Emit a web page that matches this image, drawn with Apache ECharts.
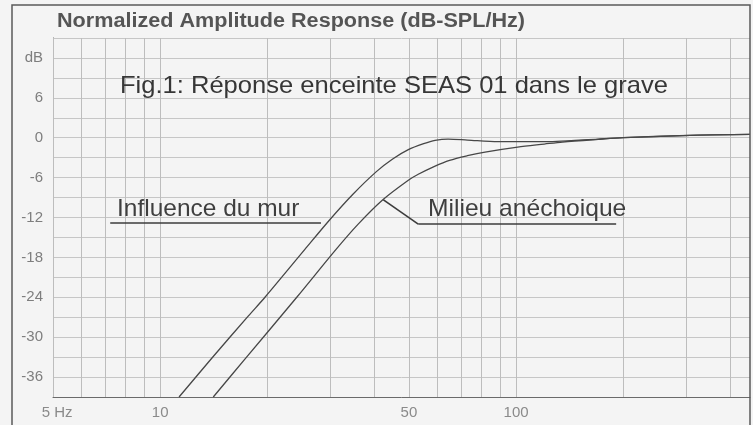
<!DOCTYPE html>
<html>
<head>
<meta charset="utf-8">
<script src="https://cdn.jsdelivr.net/npm/echarts@6/dist/echarts.min.js"></script>
<style>
  html, body { margin: 0; padding: 0; background: #f4f4f4; }
  #chart { width: 753px; height: 425px; }
</style>
</head>
<body>
<div id="chart"></div>
<script>
// Response with the wall close behind the cabinet (Hz, dB)
const wallFreq = [11.3, 14.0, 17.7, 19.7, 25.5, 30.0, 34.8, 40.5, 45, 49.8, 55, 59.2, 64.4, 73, 89, 115, 130, 170, 200, 324, 454];
const wallDb   = [-39, -33.1, -26.8, -24.0, -16.8, -12.3, -8.5, -5.1, -3.2, -1.8, -0.9, -0.4, -0.2, -0.35, -0.6, -0.6, -0.55, -0.2, 0, 0.4, 0.5];

// Anechoic response (Hz, dB)
const anechFreq = [14.1, 17.3, 24.2, 31.2, 36, 42.3, 49.8, 53.1, 59, 65, 73, 81.8, 101, 120, 135, 170, 200, 324, 454];
const anechDb   = [-39, -33.3, -24.0, -16.8, -13.0, -9.3, -6.4, -5.5, -4.3, -3.4, -2.7, -2.15, -1.4, -0.95, -0.65, -0.25, 0, 0.4, 0.5];

// Frequency grid and labelled frequencies
const gridFreqs = [5, 6, 7, 8, 9, 10, 20, 30, 40, 50, 60, 70, 80, 90, 100, 200, 300, 400];
const freqLabels = [5, 10, 50, 100];

// Annotation pointers, in data units (Hz, dB)
const wallUnderline = [[7.24, -12.75], [28.3, -12.75]];
const anechLeader = [[42.3, -9.3], [53.1, -13.0], [191, -13.0]];

const curveColor = '#474747';
const gridColor = '#c6c6c6';
const font = '"Liberation Sans", Arial, sans-serif';

function toSeries(fs, ds) { return fs.map((f, i) => [f, ds[i]]); }

const chart = echarts.init(document.getElementById('chart'), null, { renderer: 'canvas' });

chart.setOption({
  animation: false,
  backgroundColor: '#f4f4f4',
  grid: { left: 53, right: 3, top: 38, bottom: 28 },
  xAxis: {
    type: 'log',
    logBase: 10,
    min: 5,
    max: 454,
    axisLine: { show: true, onZero: false, lineStyle: { color: '#6a6a6a', width: 1 } },
    axisTick: { show: false },
    splitLine: { show: false },
    axisLabel: {
      customValues: freqLabels,
      formatter: v => (v === 5 ? '  5 Hz' : String(v)),
      color: '#8a8a8a',
      fontFamily: font,
      fontSize: 15,
      margin: 8
    }
  },
  yAxis: {
    type: 'value',
    min: -39,
    max: 15,
    interval: 3,
    axisLine: { show: true, lineStyle: { color: '#5a5a5a', width: 1 } },
    axisTick: { show: false },
    splitLine: { show: true, lineStyle: { color: gridColor, width: 1 } },
    axisLabel: {
      formatter: v => (v === 12 ? 'dB' : (v % 6 === 0 && v <= 6 ? String(v) : '')),
      color: '#7e7e7e',
      fontFamily: font,
      fontSize: 15,
      margin: 10
    }
  },
  series: [
    {
      name: 'Influence du mur',
      type: 'line',
      data: toSeries(wallFreq, wallDb),
      symbol: 'none',
      smooth: 0.3,
      z: 5,
      lineStyle: { color: curveColor, width: 1.3 },
      markLine: {
        silent: true,
        symbol: 'none',
        z: 1,
        label: { show: false },
        lineStyle: { color: '#bdbdbd', width: 1, type: 'solid' },
        data: gridFreqs.map(f => ({ xAxis: f }))
      }
    },
    {
      name: 'Milieu anéchoique',
      type: 'line',
      data: toSeries(anechFreq, anechDb),
      symbol: 'none',
      smooth: 0.3,
      z: 5,
      lineStyle: { color: curveColor, width: 1.3 },
      markLine: {
        silent: true,
        symbol: 'none',
        label: { show: false },
        lineStyle: { color: '#3c3c3c', width: 1.6, type: 'solid' },
        data: [
          [{ coord: wallUnderline[0] }, { coord: wallUnderline[1] }],
          [{ coord: anechLeader[0] }, { coord: anechLeader[1] }],
          [{ coord: anechLeader[1] }, { coord: anechLeader[2] }]
        ]
      }
    }
  ],
  graphic: [
    {
      type: 'rect',
      shape: { x: 12, y: 5, width: 738, height: 430 },
      style: { fill: 'none', stroke: '#5a5a5a', lineWidth: 1.5 },
      z: 100
    },
    {
      type: 'text', x: 57, y: 11, scaleX: 1.08, z: 50,
      style: { text: 'Normalized Amplitude Response (dB-SPL/Hz)', fill: '#555', font: 'bold 20px ' + font }
    },
    {
      type: 'text', x: 120, y: 74, scaleX: 1.064, z: 50,
      style: { text: 'Fig.1: Réponse enceinte SEAS 01 dans le grave', fill: '#363636', font: '24px ' + font }
    },
    {
      type: 'text', x: 117, y: 197, scaleX: 1.02, z: 50,
      style: { text: 'Influence du mur', fill: '#3f3f3f', font: '24px ' + font }
    },
    {
      type: 'text', x: 428, y: 197, scaleX: 1.025, z: 50,
      style: { text: 'Milieu anéchoique', fill: '#3f3f3f', font: '24px ' + font }
    }
  ]
});
</script>
</body>
</html>
